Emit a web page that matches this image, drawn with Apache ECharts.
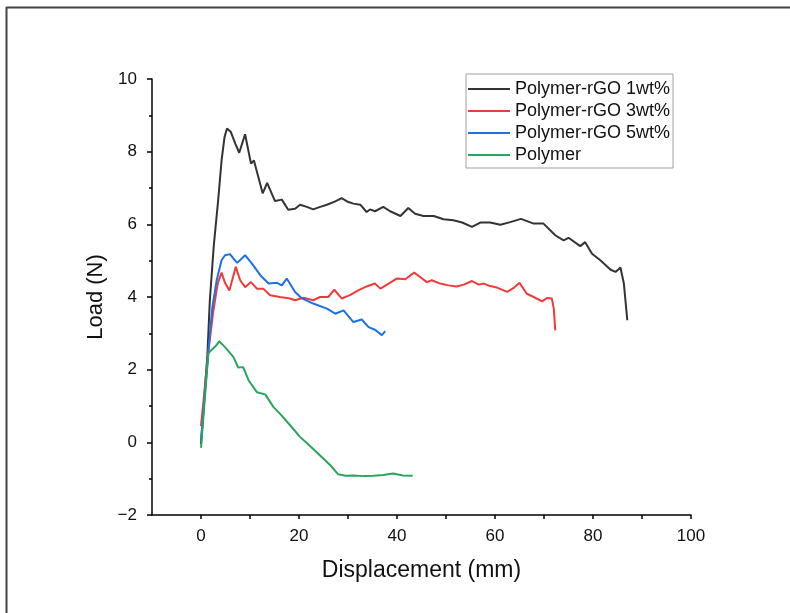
<!DOCTYPE html>
<html>
<head>
<meta charset="utf-8">
<script src="https://cdn.jsdelivr.net/npm/echarts@6/dist/echarts.min.js"></script>
<style>html,body{margin:0;padding:0;background:#fff;}#c{width:790px;height:613px;}</style>
</head>
<body>
<div id="c"></div>
<script>
var seriesNames = ['Polymer-rGO 1wt%', 'Polymer-rGO 3wt%', 'Polymer-rGO 5wt%', 'Polymer'];
var xTickLabels = [0, 20, 40, 60, 80, 100];
var xAllTicks = [0, 10, 20, 30, 40, 50, 60, 70, 80, 90, 100];

var x1 = [0, 1.3, 1.8, 2.6, 3.5, 4.2, 4.8, 5.3, 6.1, 7.0, 7.8, 9.0, 10.2, 10.8, 12.6, 13.5, 15.1, 16.5, 17.8, 19.2, 20.2, 21.6, 22.9, 24.3, 25.7, 27.4, 28.7, 29.8, 31.1, 32.5, 33.8, 34.5, 35.5, 37.2, 38.6, 40.7, 42.3, 43.7, 45.4, 47.5, 49.5, 51.5, 53.3, 55.3, 57.0, 59.0, 61.1, 63.1, 65.3, 67.9, 69.9, 72.3, 74.0, 75.0, 77.4, 78.4, 79.8, 81.5, 83.6, 84.6, 85.6, 86.3, 87.0];
var y1 = [-0.05, 2.4, 3.9, 5.4, 6.66, 7.76, 8.4, 8.64, 8.54, 8.22, 7.97, 8.48, 7.67, 7.76, 6.85, 7.14, 6.64, 6.68, 6.40, 6.43, 6.54, 6.48, 6.41, 6.48, 6.54, 6.63, 6.72, 6.63, 6.57, 6.54, 6.34, 6.41, 6.36, 6.48, 6.36, 6.23, 6.45, 6.29, 6.23, 6.23, 6.14, 6.11, 6.05, 5.93, 6.05, 6.05, 5.99, 6.06, 6.15, 6.02, 6.02, 5.70, 5.56, 5.63, 5.40, 5.51, 5.19, 5.01, 4.75, 4.69, 4.81, 4.37, 3.36];

var x3 = [0, 1.5, 2.5, 3.2, 3.5, 4.2, 4.9, 5.8, 7.1, 8.0, 9.0, 10.2, 11.4, 12.7, 14.1, 16.1, 18.2, 19.2, 20.9, 22.9, 24.3, 26.0, 27.2, 28.7, 30.4, 32.1, 33.8, 35.5, 36.6, 38.3, 40.0, 41.7, 43.5, 44.7, 46.1, 47.1, 48.8, 50.5, 52.2, 53.6, 55.3, 56.7, 57.7, 59.0, 60.4, 62.5, 63.8, 65.0, 66.5, 67.9, 69.6, 70.6, 71.6, 72.0, 72.3];
var y3 = [0.45, 2.5, 3.6, 4.2, 4.41, 4.67, 4.39, 4.18, 4.83, 4.46, 4.27, 4.41, 4.23, 4.23, 4.05, 4.00, 3.96, 3.91, 3.98, 3.91, 4.00, 4.00, 4.20, 3.96, 4.05, 4.18, 4.29, 4.37, 4.23, 4.37, 4.51, 4.49, 4.67, 4.55, 4.41, 4.46, 4.37, 4.32, 4.29, 4.34, 4.44, 4.34, 4.37, 4.30, 4.26, 4.14, 4.25, 4.39, 4.09, 4.00, 3.88, 3.97, 3.96, 3.68, 3.08];

var x5 = [0, 1.5, 2.3, 3.2, 4.2, 4.9, 5.9, 6.6, 7.4, 9.0, 10.4, 12.1, 13.8, 15.5, 16.5, 17.5, 19.2, 20.6, 22.9, 25.7, 27.4, 29.1, 31.1, 32.8, 34.2, 35.5, 36.9, 37.6];
var y5 = [0.05, 2.5, 3.7, 4.46, 5.01, 5.15, 5.18, 5.06, 4.94, 5.15, 4.92, 4.60, 4.37, 4.39, 4.32, 4.51, 4.14, 3.96, 3.82, 3.68, 3.54, 3.63, 3.31, 3.38, 3.17, 3.10, 2.95, 3.06];

var xP = [0, 1.5, 2.2, 3.0, 3.7, 4.9, 6.6, 7.6, 8.6, 9.7, 11.4, 13.1, 14.8, 16.1, 18.2, 20.2, 22.3, 24.3, 26.4, 28.0, 29.5, 31.1, 33.2, 35.2, 37.2, 39.2, 41.2, 43.2];
var yP = [-0.15, 2.45, 2.55, 2.65, 2.78, 2.62, 2.35, 2.06, 2.07, 1.71, 1.38, 1.32, 0.97, 0.79, 0.47, 0.15, -0.11, -0.36, -0.63, -0.88, -0.92, -0.91, -0.93, -0.92, -0.90, -0.86, -0.91, -0.92];

var colors = ['#333333', '#f23a3a', '#1f6fe6', '#2aa55c'];

function pairs(xs, ys) { return xs.map(function (x, i) { return [x, ys[i]]; }); }
var allData = [pairs(x1, y1), pairs(x3, y3), pairs(x5, y5), pairs(xP, yP)];
function minusFmt(v) { return String(v).replace('-', '\u2212'); }

var FONT = 'Liberation Sans, Arial, sans-serif';
var chart = echarts.init(document.getElementById('c'), null, { renderer: 'canvas' });
chart.setOption({
  animation: false,
  backgroundColor: '#ffffff',
  color: colors,
  textStyle: { fontFamily: FONT },
  graphic: [
    { type: 'line', shape: { x1: 6.5, y1: 7, x2: 6.5, y2: 613 }, style: { stroke: '#444', lineWidth: 2 } },
    { type: 'line', shape: { x1: 6, y1: 7.5, x2: 790, y2: 7.5 }, style: { stroke: '#444', lineWidth: 2 } }
  ],
  grid: { left: 152, right: 99, top: 79, bottom: 98 },
  legend: {
    data: seriesNames,
    orient: 'vertical',
    left: 466, top: 74,
    padding: [5, 3, 3, 2],
    itemGap: 2,
    itemWidth: 42, itemHeight: 2,
    icon: 'rect',
    backgroundColor: '#fff',
    borderColor: '#a0a0a0', borderWidth: 1, borderRadius: 0,
    textStyle: { fontSize: 18, color: '#111', fontFamily: FONT, lineHeight: 20 }
  },
  xAxis: {
    type: 'value', min: -10, max: 100, position: 'bottom',
    name: 'Displacement (mm)', nameLocation: 'middle', nameGap: 44,
    nameTextStyle: { fontSize: 23, color: '#111', fontFamily: FONT },
    axisLine: { show: true, onZero: false, lineStyle: { color: '#000', width: 1.5 } },
    axisTick: { show: true, length: 4, customValues: xAllTicks, lineStyle: { color: '#000', width: 1.5 } },
    axisLabel: { customValues: xTickLabels, fontSize: 17, color: '#111', margin: 13, fontFamily: FONT },
    splitLine: { show: false }
  },
  yAxis: {
    type: 'value', min: -2, max: 10, interval: 2,
    name: 'Load (N)', nameLocation: 'middle', nameGap: 37,
    nameTextStyle: { fontSize: 22, color: '#111', fontFamily: FONT },
    axisLine: { show: true, onZero: false, lineStyle: { color: '#000', width: 1.5 } },
    axisTick: { show: true, length: 5, lineStyle: { color: '#000', width: 1.5 } },
    minorTick: { show: true, splitNumber: 2, length: 3, lineStyle: { color: '#000', width: 1.5 } },
    axisLabel: { fontSize: 17, color: '#111', margin: 15, fontFamily: FONT, formatter: minusFmt },
    splitLine: { show: false }, minorSplitLine: { show: false }
  },
  series: seriesNames.map(function (n, i) {
    return {
      name: n, type: 'line', data: allData[i],
      symbol: 'none', smooth: false,
      lineStyle: { width: 2, color: colors[i] },
      itemStyle: { color: colors[i] }
    };
  })
});
</script>
</body>
</html>
